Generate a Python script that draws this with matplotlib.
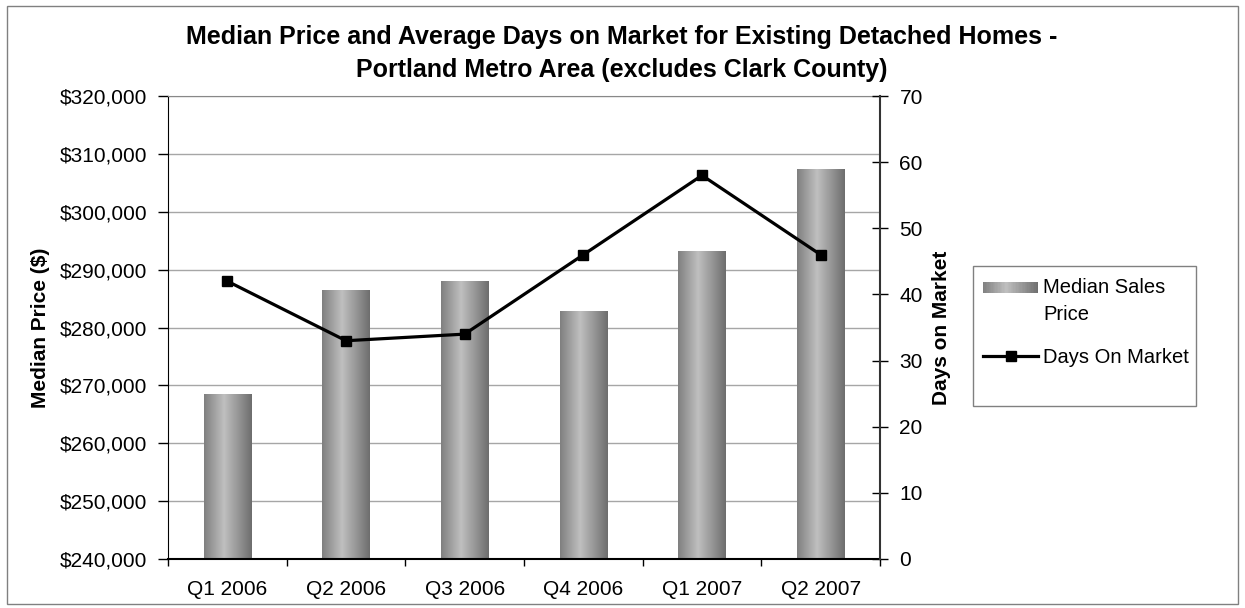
import numpy as np
import matplotlib
matplotlib.use("Agg")
import matplotlib.pyplot as plt
from matplotlib.patches import Rectangle
from matplotlib.lines import Line2D
from matplotlib.legend_handler import HandlerBase
from matplotlib.ticker import FuncFormatter, FixedLocator

plt.rcParams['font.family'] = ['Liberation Sans', 'DejaVu Sans']

quarters = ['Q1 2006', 'Q2 2006', 'Q3 2006', 'Q4 2006', 'Q1 2007', 'Q2 2007']
median_price = [268500, 286400, 287900, 282700, 293100, 307300]
days_on_market = [42, 33, 34, 46, 58, 46]

W, H = 1245, 608
fig = plt.figure(figsize=(W / 100, H / 100), dpi=100)

# outer chart border
fig.patches.append(Rectangle((7 / W, 4 / H), (1238 - 7) / W, (604 - 6) / H,
                             transform=fig.transFigure, fill=False,
                             edgecolor='#808080', lw=1.0, zorder=-2))
# legend frame (Excel style, extra space at the bottom)
fig.patches.append(Rectangle((973 / W, 1 - 406 / H), (1196 - 973) / W, (406 - 266) / H,
                             transform=fig.transFigure, fill=False,
                             edgecolor='#808080', lw=1.0, zorder=-1))

ax = fig.add_axes([168 / W, 49 / H, 712 / W, 463 / H])
x = np.arange(len(quarters))
ymin, ymax = 240000, 320000

gstops = [0, 0.42, 1.0]
gvals = [0.50, 0.75, 0.43]
gpos = np.linspace(0, 1, 200)
grad = np.interp(gpos, gstops, gvals)[np.newaxis, :]

bars = ax.bar(x, median_price, width=0.4, color='#a0a0a0', edgecolor='none', zorder=2)
for b in bars:
    x0, w, h = b.get_x(), b.get_width(), b.get_height()
    ax.imshow(grad, cmap='gray', vmin=0, vmax=1, aspect='auto',
              extent=[x0, x0 + w, ymin, h], zorder=2.5, interpolation='bilinear')

ax.set_xlim(-0.5, len(quarters) - 0.5)
ax.set_ylim(ymin, ymax)
ax.yaxis.set_major_locator(FixedLocator(np.arange(ymin, ymax + 1, 10000)))
ax.yaxis.set_major_formatter(FuncFormatter(lambda v, p: '${:,.0f}'.format(v)))
ax.set_xticks(x)
ax.set_xticklabels(quarters)
ax.set_xticks(np.arange(-0.5, len(quarters), 1.0), minor=True)
ax.tick_params(axis='x', which='major', length=0, pad=15, labelsize=15)
ax.tick_params(axis='x', which='minor', length=5, width=1, direction='out', color='black')
ax.tick_params(axis='y', length=7, width=1, direction='out', pad=8, labelsize=15, color='black')
ax.yaxis.grid(True, color='#a6a6a6', lw=1.0, zorder=0)
ax.set_axisbelow(True)
ax.spines['top'].set_color('#888888')
ax.spines['left'].set_color('black')
ax.spines['bottom'].set_color('black')
ax.spines['bottom'].set_linewidth(1.5)
ax.spines['right'].set_visible(False)
ax.set_ylabel('Median Price ($)', fontsize=15, fontweight='bold')
ax.yaxis.set_label_coords((50 - 168) / 712, 0.5)

ax2 = ax.twinx()
ax2.plot(x, days_on_market, color='black', lw=2.3, marker='s', markersize=7,
         markerfacecolor='black', markeredgecolor='black', zorder=5)
ax2.set_ylim(0, 70)
ax2.set_yticks(np.arange(0, 71, 10))
ax2.tick_params(axis='y', length=12, width=1, direction='inout', pad=8, labelsize=15, color='black')
ax2.spines['right'].set_color('#333333')
ax2.spines['right'].set_linewidth(1.5)
ax2.spines['top'].set_visible(False)
ax2.spines['left'].set_visible(False)
ax2.spines['bottom'].set_visible(False)
ax2.set_ylabel('Days on Market', fontsize=15, fontweight='bold')
ax2.yaxis.set_label_coords((932 - 168) / 712, 0.5)


class GradHandler(HandlerBase):
    """Gradient swatch placed next to the first line of a two-line label."""
    def create_artists(self, legend, orig_handle, xdescent, ydescent, width, height, fontsize, trans):
        n = 40
        arts = []
        hh = height * 0.8
        y0 = -ydescent + (height - hh) / 2 + 10.0
        for i in range(n):
            c = np.interp((i + 0.5) / n, gstops, gvals)
            r = Rectangle((-xdescent + i * width / n, y0), width / n * 1.08, hh,
                          facecolor=(c, c, c), edgecolor='none', transform=trans)
            arts.append(r)
        return arts


bar_proxy = Rectangle((0, 0), 1, 1)
line_proxy = Line2D([], [], color='black', lw=2.3, marker='s', markersize=7)
leg = ax2.legend([bar_proxy, line_proxy], ['Median Sales\nPrice', 'Days On Market'],
                 handler_map={Rectangle: GradHandler()},
                 loc='upper left', bbox_to_anchor=(983 / W, 1 - 278 / H),
                 bbox_transform=fig.transFigure, fontsize=14.5, frameon=False,
                 handlelength=2.75, handletextpad=0.25, borderpad=0.0,
                 borderaxespad=0.0, labelspacing=1.2)
for t in leg.get_texts():
    t.set_linespacing(1.55)

fig.text(0.4996, 1 - 37 / H, 'Median Price and Average Days on Market for Existing Detached Homes -',
         ha='center', va='center', fontsize=18, fontweight='bold')
fig.text(0.4996, 1 - 70 / H, 'Portland Metro Area (excludes Clark County)',
         ha='center', va='center', fontsize=18, fontweight='bold')

fig.savefig('out.png', dpi=100)
